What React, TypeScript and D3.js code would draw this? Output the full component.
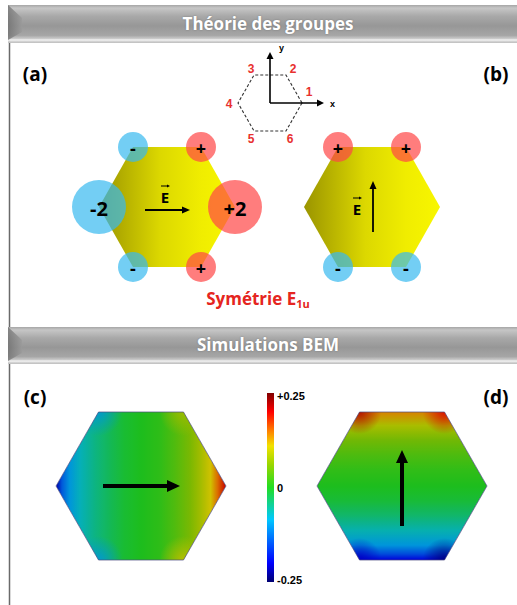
import React from "react";
import * as d3 from "d3";

// ---------- data ----------
const titles = ["Théorie des groupes", "Simulations BEM"];
const panelLabels = ["(a)", "(b)", "(c)", "(d)"];
const vertexNumbers = ["1", "2", "3", "4", "5", "6"];
const axisLabels = ["x", "y"];
// charges on vertices 1..6 (1 = right vertex, counter-clockwise)
const chargesA = [2, 1, -1, -2, -1, 1];
const chargesB = [0, 1, 1, 0, -1, -1];
const symmetryLabel = "Symétrie E";
const symmetrySub = "1u";
const fieldLabel = "E";

const colorbarTicks = [0.25, 0, -0.25];
const colorbarTickLabels = ["+0.25", "0", "-0.25"];
const cmapValues = [-0.25, -0.2, -0.085, 0, 0.06, 0.11, 0.15, 0.2, 0.25];
const cmapColors = ["#000070", "#0000ff", "#00c8ff", "#22dd22", "#99d600", "#f2e200", "#ff8000", "#ff0000", "#800000"];

// field profile for (c): fraction across the hexagon (left->right) and value
const profileCPos = [0, 0.035, 0.08, 0.14, 0.23, 0.32, 0.4, 0.5, 0.61, 0.7, 0.79, 0.85, 0.91, 0.95, 1];
const profileCVal = [-0.22, -0.14, -0.1, -0.07, -0.045, -0.025, -0.01, 0, 0.01, 0.03, 0.055, 0.08, 0.11, 0.15, 0.21];
// field profile for (d): fraction down the hexagon (top->bottom) and value
const profileDPos = [0, 0.09, 0.19, 0.29, 0.39, 0.5, 0.6, 0.7, 0.8, 0.9, 0.96, 1];
const profileDVal = [0.14, 0.085, 0.05, 0.028, 0.012, 0, -0.012, -0.035, -0.065, -0.1, -0.15, -0.2];
// corner values (vertex index 0 = right, ccw)
const cornerVertices = [1, 2, 4, 5];
const cornerCVal = [0.08, -0.1, -0.1, 0.1];
const cornerDVal = [0.2, 0.22, -0.21, -0.24];

// ---------- helpers ----------
const W = 517;
const H = 605;
const S60 = Math.sin(Math.PI / 3);
function hexPts(cx: number, cy: number, rx: number, hy: number): [number, number][] {
  return d3.range(6).map((k) => {
    const a = (k * Math.PI) / 3;
    return [cx + rx * Math.cos(a), cy - (hy * Math.sin(a)) / S60] as [number, number];
  });
}
const ptsStr = (p: [number, number][]) => p.map((d) => d.join(",")).join(" ");

const colorScale = d3.scaleLinear<string>().domain(cmapValues).range(cmapColors).interpolate(d3.interpolateRgb);
const radiusScale = d3.scaleLinear().domain([1, 2]).range([15, 27]);

function Arrow({ x1, y1, x2, y2, sw, hl, hw }: any) {
  const dx = x2 - x1, dy = y2 - y1;
  const L = Math.hypot(dx, dy);
  const ux = dx / L, uy = dy / L;
  const bx = x2 - ux * hl, by = y2 - uy * hl;
  const px = -uy, py = ux;
  return (
    <g>
      <line x1={x1} y1={y1} x2={bx + ux} y2={by + uy} stroke="#000" strokeWidth={sw} />
      <polygon
        points={`${x2},${y2} ${bx + (px * hw) / 2},${by + (py * hw) / 2} ${bx - (px * hw) / 2},${by - (py * hw) / 2}`}
        fill="#000"
      />
    </g>
  );
}

const FONT = "'Open Sans', 'DejaVu Sans', sans-serif";

function Header({ y, h, text, id }: any) {
  return (
    <g>
      <defs>
        <linearGradient id={id} x1="0" y1="0" x2="0" y2="1">
          <stop offset="0" stopColor="#a6a6a6" />
          <stop offset="0.08" stopColor="#c6c6c6" />
          <stop offset="0.3" stopColor="#a8a8a8" />
          <stop offset="0.55" stopColor="#979797" />
          <stop offset="0.8" stopColor="#a6a6a6" />
          <stop offset="0.88" stopColor="#c8c8c8" />
          <stop offset="0.92" stopColor="#f4f4f4" />
          <stop offset="0.96" stopColor="#d2d2d2" />
          <stop offset="1" stopColor="#bdbdbd" />
        </linearGradient>
        <linearGradient id={id + "b"} x1="0" y1="0" x2="1" y2="0">
          <stop offset="0" stopColor="#6e6e6e" />
          <stop offset="1" stopColor="#9a9a9a" />
        </linearGradient>
      </defs>
      <rect x={8} y={y} width={W - 8} height={h} fill={`url(#${id})`} />
      <polygon
        points={`8,${y} 22,${y + 13} 22,${y + h - 11} 8,${y + h - 3}`}
        fill={`url(#${id}b)`}
        opacity={0.75}
      />
      <text
        x={268}
        y={y + h / 2 - 1}
        textAnchor="middle"
        dominantBaseline="central"
        fill="#fff"
        fontFamily={FONT}
        fontWeight={700}
        fontSize={17}
        style={{ textShadow: "0 0 2px rgba(0,0,0,0.25)" }}
      >
        {text}
      </text>
    </g>
  );
}

function ChargeHex({ cx, cy, charges, gid, eLabelPos, arrow }: any) {
  const pts = hexPts(cx, cy, 68, 60);
  return (
    <g>
      <polygon points={ptsStr(pts)} fill={`url(#${gid})`} />
      {charges.map((c: number, i: number) => {
        if (c === 0) return null;
        const [x, y] = pts[i];
        const r = radiusScale(Math.abs(c));
        return (
          <circle key={"c" + i} cx={x} cy={y} r={r} fill={c > 0 ? "rgb(255,70,70)" : "rgb(55,185,240)"} opacity={0.7} />
        );
      })}
      {charges.map((c: number, i: number) => {
        if (c === 0) return null;
        const [x, y] = pts[i];
        const big = Math.abs(c) > 1;
        const label = (c > 0 ? "+" : "-") + (big ? String(Math.abs(c)) : "");
        return (
          <text
            key={"t" + i}
            x={x}
            y={y + 1}
            textAnchor="middle"
            dominantBaseline="central"
            fontFamily={FONT}
            fontWeight={700}
            fontSize={big ? 20 : 18}
            fill="#000"
          >
            {label}
          </text>
        );
      })}
      <Arrow {...arrow} sw={1.8} hl={8} hw={7} />
      <text
        x={eLabelPos[0]}
        y={eLabelPos[1]}
        textAnchor="middle"
        dominantBaseline="central"
        fontFamily={FONT}
        fontWeight={700}
        fontSize={15}
        fill="#000"
      >
        {fieldLabel}
      </text>
      <Arrow x1={eLabelPos[0] - 4} y1={eLabelPos[1] - 11} x2={eLabelPos[0] + 5} y2={eLabelPos[1] - 11} sw={1} hl={3} hw={3} />
    </g>
  );
}

function FieldHex({ cx, cy, id, horizontal, pos, val, cornerVal, arrow }: any) {
  const rx = 85, hy = 74;
  const pts = hexPts(cx, cy, rx, hy);
  const g = horizontal
    ? { x1: cx - rx, y1: cy, x2: cx + rx, y2: cy }
    : { x1: cx, y1: cy - hy, x2: cx, y2: cy + hy };
  return (
    <g>
      <defs>
        <linearGradient id={id + "g"} gradientUnits="userSpaceOnUse" {...g}>
          {pos.map((p: number, i: number) => (
            <stop key={i} offset={p} stopColor={colorScale(val[i])} />
          ))}
        </linearGradient>
        <clipPath id={id + "clip"}>
          <polygon points={ptsStr(pts)} />
        </clipPath>
        {cornerVal.map((v: number, i: number) => (
          <radialGradient key={i} id={id + "r" + i}>
            <stop offset="0" stopColor={colorScale(v)} stopOpacity={0.85} />
            <stop offset="1" stopColor={colorScale(v)} stopOpacity={0} />
          </radialGradient>
        ))}
      </defs>
      <g clipPath={`url(#${id}clip)`}>
        <polygon points={ptsStr(pts)} fill={`url(#${id}g)`} />
        {cornerVertices.map((vi: number, i: number) => (
          <circle key={i} cx={pts[vi][0]} cy={pts[vi][1]} r={horizontal ? 24 : 22} fill={`url(#${id}r${i})`} />
        ))}
        <polygon points={ptsStr(pts)} fill="#000" opacity={0.14} />
      </g>
      <polygon points={ptsStr(pts)} fill="none" stroke="#4a4a80" strokeWidth={1} opacity={0.7} />
      <Arrow {...arrow} sw={4} hl={13} hw={12} />
    </g>
  );
}

export default function App() {
  const cbY = d3.scaleLinear().domain([-0.25, 0.25]).range([582, 393]);
  const diag = hexPts(270, 103, 32, 28);
  const numOffsets = [[7, -11], [7, -6], [-3, -6], [-9, 1], [-3, 8], [4, 8]];
  return (
    <svg width={W} height={H} style={{ position: "absolute", left: 0, top: 0, background: "#fff" }}>
      <defs>
        <linearGradient id="yel" x1="0" y1="0" x2="1" y2="0">
          <stop offset="0" stopColor="#9a9400" />
          <stop offset="0.45" stopColor="#dcd800" />
          <stop offset="0.75" stopColor="#f0ed00" />
          <stop offset="1" stopColor="#f8f600" />
        </linearGradient>
        <linearGradient id="cbar" gradientUnits="userSpaceOnUse" x1={0} y1={cbY(-0.25)} x2={0} y2={cbY(0.25)}>
          {cmapValues.map((v, i) => (
            <stop key={i} offset={(v + 0.25) / 0.5} stopColor={cmapColors[i]} />
          ))}
        </linearGradient>
      </defs>
      <rect x={0} y={0} width={W} height={H} fill="#fff" />
      {/* left frame line */}
      <line x1={9.5} y1={5} x2={9.5} y2={H} stroke="#6a6a6a" strokeWidth={1.5} />

      <Header y={5} h={38} text={titles[0]} id="h1" />
      <Header y={327} h={37} text={titles[1]} id="h2" />

      {/* panel labels */}
      {panelLabels.map((l, i) => (
        <text
          key={l}
          x={i % 2 === 0 ? 35 : 496}
          y={i < 2 ? 74 : 397}
          textAnchor="middle"
          dominantBaseline="central"
          fontFamily={FONT}
          fontWeight={700}
          fontSize={19}
          fill="#000"
        >
          {l}
        </text>
      ))}

      {/* coordinate diagram */}
      <polygon points={ptsStr(diag)} fill="none" stroke="#333" strokeWidth={1.1} strokeDasharray="3,2" />
      <Arrow x1={270} y1={103} x2={270} y2={52} sw={1.6} hl={7} hw={7} />
      <Arrow x1={270} y1={103} x2={324} y2={103} sw={1.6} hl={7} hw={7} />
      <text x={330} y={104} fontFamily="'Liberation Sans', sans-serif" fontWeight={700} fontSize={9} dominantBaseline="central">
        {axisLabels[0]}
      </text>
      <text x={279} y={48} fontFamily="'Liberation Sans', sans-serif" fontWeight={700} fontSize={9} dominantBaseline="central">
        {axisLabels[1]}
      </text>
      {vertexNumbers.map((n, i) => (
        <text
          key={n}
          x={diag[i][0] + numOffsets[i][0]}
          y={diag[i][1] + numOffsets[i][1]}
          textAnchor="middle"
          dominantBaseline="central"
          fontFamily="'Liberation Sans', sans-serif"
          fontWeight={700}
          fontSize={12}
          fill="#e8312f"
        >
          {n}
        </text>
      ))}

      <ChargeHex
        cx={167}
        cy={207}
        charges={chargesA}
        gid="yel"
        eLabelPos={[165, 197]}
        arrow={{ x1: 145, y1: 210, x2: 190, y2: 210 }}
      />
      <ChargeHex
        cx={372}
        cy={207}
        charges={chargesB}
        gid="yel"
        eLabelPos={[357, 209]}
        arrow={{ x1: 373, y1: 232, x2: 373, y2: 181 }}
      />

      <text x={258} y={298} textAnchor="middle" dominantBaseline="central" fontFamily={FONT} fontWeight={700} fontSize={17} fill="#e52520">
        {symmetryLabel}
        <tspan fontSize={11} dy={5}>
          {symmetrySub}
        </tspan>
      </text>

      <FieldHex
        cx={141}
        cy={486}
        id="fc"
        horizontal
        pos={profileCPos}
        val={profileCVal}
        cornerVal={cornerCVal}
        arrow={{ x1: 103, y1: 486, x2: 180, y2: 486 }}
      />
      <FieldHex
        cx={402}
        cy={486}
        id="fd"
        horizontal={false}
        pos={profileDPos}
        val={profileDVal}
        cornerVal={cornerDVal}
        arrow={{ x1: 402, y1: 526, x2: 402, y2: 450 }}
      />

      {/* colorbar */}
      <rect x={267} y={cbY(0.25)} width={7} height={cbY(-0.25) - cbY(0.25)} fill="url(#cbar)" />
      {colorbarTicks.map((t, i) => (
        <text
          key={i}
          x={277}
          y={cbY(t) + (i === 0 ? 3 : i === 2 ? -2 : 0)}
          dominantBaseline="central"
          fontFamily="'Liberation Sans', sans-serif"
          fontWeight={700}
          fontSize={11}
          fill="#000"
        >
          {colorbarTickLabels[i]}
        </text>
      ))}
    </svg>
  );
}
